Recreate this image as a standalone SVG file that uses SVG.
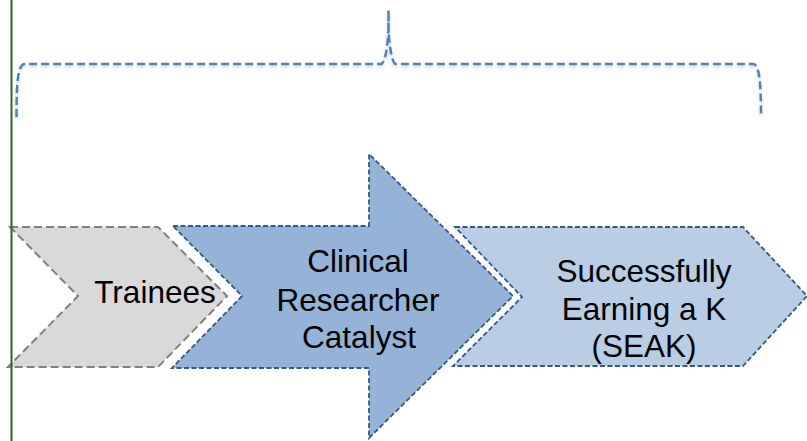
<svg xmlns="http://www.w3.org/2000/svg" width="807" height="441" viewBox="0 0 807 441">
  <defs>
    <filter id="soft" x="-5%" y="-20%" width="110%" height="150%">
      <feDropShadow dx="0" dy="2" stdDeviation="1.5" flood-color="#000" flood-opacity="0.18"/>
    </filter>
  </defs>
  <style>
    .halo { fill: none; stroke: #ffffff; stroke-width: 5; stroke-linejoin: miter; }
    .grey { fill: #d9d9d9; stroke: #808080; stroke-width: 2; stroke-dasharray: 8 4; }
    .mid { fill: #95b3d7; stroke: #33598a; stroke-width: 1.8; stroke-dasharray: 5 2.5; }
    .light { fill: #b9cde5; stroke: #33598a; stroke-width: 1.8; stroke-dasharray: 5 2.5; }
    .label { font-family: "Liberation Sans", Arial, sans-serif; font-size: 31.5px; fill: #000; text-anchor: middle; }
    .brace { fill: none; stroke: #4f81bd; stroke-width: 2.5; stroke-dasharray: 8 4; }
  </style>

  <!-- bracket spanning the process -->
  <g id="brace">
    <path class="brace" filter="url(#soft)" d="M16.5,117 C16.5,80 18,64 25,64 L381,64 C385,64 388,45 388.5,28 L388.5,10 L388.5,28 C389,45 392,64 396,64 L753,64 C759,64 761,80 761,117"/>
  </g>

  <!-- stage 3 -->
  <g id="seak">
    <polygon class="halo" points="455,227 743,227 807,296 743,366 453,366 522,297"/>
    <polygon class="light" points="455,227 743,227 807,296 743,366 453,366 522,297"/>
    <text class="label" x="644" y="282">Successfully</text>
    <text class="label" x="644" y="320">Earning a K</text>
    <text class="label" x="644" y="357">(SEAK)</text>
  </g>

  <!-- stage 2 -->
  <g id="catalyst">
    <polygon class="halo" points="173,226 369,226 369,154 513,296 369,438 369,368 172,368 242,296"/>
    <polygon class="mid" points="173,226 369,226 369,154 513,296 369,438 369,368 172,368 242,296"/>
    <text class="label" x="358" y="272">Clinical</text>
    <text class="label" x="358" y="311">Researcher</text>
    <text class="label" x="359" y="348">Catalyst</text>
  </g>

  <!-- stage 1 -->
  <g id="trainees">
    <polygon class="halo" points="10,227 158,227 227,296 158,367 8,367 78,296"/>
    <polygon class="grey" points="10,227 158,227 227,296 158,367 8,367 78,296"/>
    <text class="label" x="155" y="303">Trainees</text>
  </g>

  <!-- left margin rule -->
  <g id="connectors">
    <line x1="11.5" y1="0" x2="11.5" y2="441" stroke="#256b25" stroke-width="2"/>
  </g>
</svg>
